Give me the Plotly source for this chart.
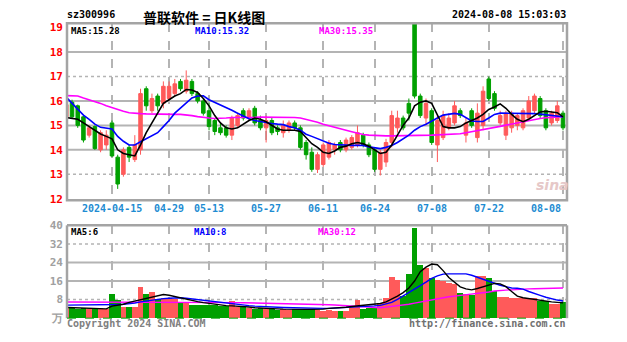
import plotly.graph_objects as go

# ---------------- data ----------------
tick_idx = [8, 18, 25, 35, 45, 54, 64, 74, 87]
tick_text = ["2024-04-15", "04-29", "05-13", "05-27", "06-11", "06-24", "07-08", "07-22", "08-08"]

open_ = [15.35, 15.95, 15.8, 15.35, 14.6, 14.95, 14.0, 14.2, 15.1, 13.7,
         13.0, 14.1, 13.6, 14.0, 16.5, 15.6, 16.2, 15.9, 16.1, 16.3,
         16.8, 16.4, 16.8, 16.3, 16.0, 15.6, 15.2, 14.9, 14.9, 14.6,
         15.0, 15.6, 15.3, 15.7, 15.2, 14.9, 15.2, 14.9, 14.7, 14.8,
         15.1, 14.9, 14.3, 13.9, 13.2, 13.4, 13.7, 14.0, 14.3, 14.0,
         14.1, 14.2, 14.6, 14.2, 14.0, 13.2, 13.5, 14.3, 14.9, 15.3,
         15.9, 20.5, 16.2, 15.3, 15.6, 14.2, 14.5, 14.9, 15.1, 15.6,
         14.6, 15.6, 14.5, 15.0, 16.9, 16.3, 15.1, 14.6, 14.9, 15.0,
         14.9, 15.3, 15.6, 16.1, 15.6, 15.1, 15.2, 15.5]
high = [15.95, 16.05, 15.85, 15.4, 15.0, 15.0, 14.8, 14.8, 15.2, 13.8,
        14.1, 14.2, 14.6, 16.5, 16.6, 16.3, 16.3, 16.8, 16.8, 16.9,
        16.9, 17.25, 16.9, 16.4, 16.1, 15.9, 15.3, 15.1, 15.0, 15.4,
        15.5, 15.7, 15.7, 15.8, 15.4, 15.4, 15.3, 15.0, 15.2, 15.2,
        15.2, 15.0, 14.4, 14.1, 13.9, 14.3, 14.4, 14.3, 14.4, 14.5,
        14.6, 15.0, 14.7, 14.3, 14.1, 14.0, 14.45, 15.6, 15.6, 15.4,
        16.1, 20.5, 16.3, 16.1, 15.7, 15.4, 15.6, 15.5, 16.0, 15.7,
        15.3, 15.7, 15.9, 16.6, 17.0, 16.4, 15.6, 15.6, 15.6, 15.5,
        15.7, 16.2, 16.3, 16.2, 15.7, 15.6, 16.0, 15.6]
low = [15.2, 15.3, 14.9, 14.3, 14.5, 14.0, 13.9, 14.0, 13.7, 12.4,
       12.9, 13.5, 13.5, 13.8, 15.6, 15.5, 15.6, 15.7, 16.0, 16.2,
       16.4, 16.3, 16.2, 15.9, 15.4, 14.8, 14.6, 14.6, 14.5, 14.4,
       14.9, 15.2, 15.2, 15.0, 14.8, 14.3, 14.6, 14.6, 14.5, 14.7,
       14.8, 14.0, 13.6, 13.1, 13.05, 13.3, 13.6, 13.8, 13.9, 13.9,
       14.0, 14.1, 14.1, 13.7, 13.1, 12.95, 13.3, 14.1, 14.7, 14.8,
       15.2, 16.1, 15.3, 15.0, 14.2, 13.5, 14.4, 14.8, 15.0, 15.3,
       14.3, 14.9, 14.3, 14.8, 16.0, 15.6, 15.0, 14.4, 14.7, 14.8,
       14.8, 15.2, 15.5, 15.3, 14.8, 15.0, 15.1, 14.8]
close = [15.85, 15.35, 15.0, 14.4, 14.9, 14.05, 14.7, 14.6, 13.75, 12.6,
         14.0, 13.7, 14.2, 16.3, 15.8, 16.1, 15.8, 16.6, 16.6, 16.7,
         16.5, 16.85, 16.3, 16.0, 15.5, 14.95, 14.75, 14.7, 14.6, 15.3,
         15.4, 15.3, 15.6, 15.1, 14.9, 15.2, 14.7, 14.75, 15.0, 15.1,
         14.9, 14.1, 13.8, 13.2, 13.8, 14.2, 14.3, 14.2, 14.0, 14.4,
         14.5, 14.7, 14.2, 13.8, 13.2, 13.9, 14.3, 15.4, 15.3, 14.9,
         15.5, 16.2, 15.4, 15.9, 14.3, 15.2, 15.4, 15.3, 15.8, 15.4,
         15.1, 15.0, 15.5, 16.4, 16.1, 15.7, 15.4, 15.5, 15.5, 15.4,
         15.6, 16.0, 16.2, 15.4, 14.9, 15.5, 15.8, 14.9]

ma5 = [15.32, 15.3, 15.25, 15.1, 14.95, 14.8, 14.65, 14.55, 14.45, 14.0,
       13.85, 13.8, 13.75, 14.2, 14.7, 15.1, 15.5, 15.9, 16.05, 16.2,
       16.3, 16.47, 16.45, 16.35, 16.1, 15.8, 15.4, 15.1, 14.9, 14.85,
       14.9, 15.05, 15.2, 15.3, 15.25, 15.15, 15.0, 14.85, 14.8, 14.8,
       14.8, 14.75, 14.5, 14.25, 14.1, 13.9, 13.85, 13.95, 14.1, 14.15,
       14.25, 14.3, 14.25, 14.15, 14.0, 13.85, 13.9, 14.2, 14.6, 15.0,
       15.3, 15.8, 15.95, 16.0, 15.9, 15.4, 14.95, 14.9, 14.9, 14.95,
       15.1, 15.2, 15.3, 15.45, 15.65, 15.75, 15.88, 15.7, 15.45, 15.25,
       15.15, 15.25, 15.4, 15.55, 15.58, 15.55, 15.52, 15.35]
ma10 = [16.15, 15.9, 15.65, 15.42, 15.25, 15.05, 14.92, 14.9, 14.85, 14.55,
        14.35, 14.2, 14.2, 14.33, 14.45, 14.58, 14.7, 14.95, 15.2, 15.5,
        15.7, 15.9, 16.12, 16.2, 16.21, 16.05, 15.95, 15.85, 15.75, 15.62,
        15.5, 15.38, 15.27, 15.2, 15.15, 15.1, 15.08, 15.05, 15.03, 14.95,
        14.9, 14.8, 14.64, 14.55, 14.45, 14.35, 14.27, 14.22, 14.2, 14.18,
        14.18, 14.18, 14.18, 14.12, 14.07, 14.05, 14.1, 14.18, 14.3, 14.45,
        14.6, 14.8, 14.95, 15.05, 15.16, 15.3, 15.42, 15.46, 15.49, 15.45,
        15.3, 15.18, 15.16, 15.16, 15.3, 15.45, 15.5, 15.5, 15.49, 15.49,
        15.49, 15.49, 15.48, 15.46, 15.43, 15.4, 15.37, 15.35]
ma30 = [16.22, 16.22, 16.2, 16.12, 16.05, 15.98, 15.9, 15.8, 15.72, 15.64,
        15.58, 15.52, 15.49, 15.48, 15.47, 15.46, 15.45, 15.45, 15.45, 15.45,
        15.45, 15.44, 15.4, 15.36, 15.32, 15.3, 15.28, 15.28, 15.3, 15.32,
        15.33, 15.33, 15.33, 15.33, 15.34, 15.34, 15.34, 15.34, 15.34, 15.33,
        15.32, 15.3, 15.25, 15.2, 15.13, 15.05, 14.98, 14.92, 14.85, 14.8,
        14.74, 14.68, 14.63, 14.6, 14.58, 14.57, 14.57, 14.57, 14.57, 14.57,
        14.57, 14.58, 14.58, 14.59, 14.6, 14.61, 14.62, 14.63, 14.64, 14.66,
        14.7, 14.74, 14.78, 14.82, 14.87, 14.92, 14.96, 15.01, 15.06, 15.1,
        15.15, 15.2, 15.24, 15.28, 15.31, 15.33, 15.35, 15.36]

volume = [4.6, 4.2, 4.0, 4.3, 3.8, 4.0, 4.2, 4.0, 10.2, 7.8,
          4.8, 4.6, 4.8, 13.2, 10.2, 11.3, 8.0, 8.6, 8.4, 8.2,
          6.8, 6.6, 5.6, 5.5, 5.4, 5.6, 5.5, 5.2, 5.0, 7.2,
          4.8, 4.6, 4.2, 4.0, 4.2, 3.8, 4.0, 3.5, 3.6, 3.4,
          3.8, 3.9, 3.6, 3.8, 3.2, 3.0, 3.4, 3.0, 2.8, 3.0,
          4.5, 7.8, 3.6, 4.4, 4.2, 6.5, 8.5, 17.8, 16.5, 9.5,
          19.0, 38.9, 22.6, 21.5, 17.1, 16.4, 16.0, 15.0, 14.5, 10.5,
          10.2, 10.0, 18.0, 18.2, 17.1, 11.5, 8.8, 8.8, 8.6, 8.5,
          8.4, 8.5, 8.6, 7.4, 7.2, 6.0, 6.1, 6.7]
vma5 = [4.6, 4.5, 4.4, 4.3, 4.2, 4.1, 4.0, 4.0, 5.2, 5.6,
        6.0, 6.8, 7.4, 7.8, 8.4, 9.0, 9.5, 10.2, 9.9, 9.3,
        8.8, 8.0, 7.6, 7.1, 6.7, 6.3, 6.0, 5.6, 5.4, 5.3,
        5.2, 5.0, 4.8, 4.5, 4.3, 4.1, 4.0, 4.0, 3.9, 3.8,
        3.8, 3.8, 3.8, 3.8, 3.8, 3.9, 4.2, 4.3, 4.5, 4.7,
        5.0, 5.3, 5.6, 5.8, 6.0, 6.3, 7.0, 8.2, 9.5, 11.0,
        13.0, 16.0, 20.0, 22.0, 23.3, 23.0, 20.5, 17.5, 15.5, 13.5,
        12.6, 12.2, 12.8, 13.6, 14.5, 15.0, 14.8, 13.6, 11.5, 9.5,
        8.8, 8.4, 8.1, 7.8, 7.4, 7.0, 6.8, 6.6]
vma10 = [5.6, 5.6, 5.6, 5.6, 5.7, 5.7, 5.8, 5.8, 5.9, 5.9,
         6.0, 6.2, 6.5, 7.0, 7.4, 7.8, 8.1, 8.4, 8.6, 8.8,
         8.8, 8.6, 8.3, 8.0, 7.6, 7.3, 7.0, 6.6, 6.3, 6.0,
         5.8, 5.6, 5.4, 5.2, 5.0, 4.9, 4.8, 4.7, 4.6, 4.5,
         4.4, 4.3, 4.2, 4.2, 4.2, 4.2, 4.2, 4.3, 4.4, 4.5,
         4.6, 4.8, 5.0, 5.1, 5.3, 5.5, 6.0, 6.8, 8.1, 9.5,
         11.0, 12.6, 14.0, 15.5, 17.1, 18.2, 19.0, 19.1, 19.1, 19.1,
         19.1, 18.5, 17.6, 16.8, 15.8, 14.8, 14.2, 13.6, 13.0, 12.9,
         12.5, 11.5, 10.5, 9.8, 9.0, 8.3, 7.8, 7.4]
vma30 = [7.0, 7.0, 7.0, 7.0, 7.0, 7.0, 7.0, 7.0, 7.0, 7.0,
         7.0, 7.0, 7.0, 7.0, 7.0, 6.95, 6.95, 6.95, 6.9, 6.9,
         6.9, 6.9, 6.85, 6.85, 6.8, 6.8, 6.8, 6.75, 6.75, 6.7,
         6.7, 6.65, 6.6, 6.6, 6.55, 6.5, 6.5, 6.45, 6.4, 6.4,
         6.4, 6.3, 6.2, 6.1, 6.05, 6.0, 5.8, 5.65, 5.5, 5.25,
         5.0, 4.8, 4.65, 4.5, 4.5, 4.5, 4.75, 5.0, 5.3, 5.65,
         6.0, 6.5, 7.0, 7.5, 8.0, 8.5, 8.8, 9.2, 9.5, 9.75,
         10.0, 10.3, 10.7, 11.0, 11.3, 11.7, 12.0, 12.1, 12.2, 12.4,
         12.5, 12.6, 12.65, 12.7, 12.8, 12.9, 12.95, 13.0]

price_ticks = [12, 13, 14, 15, 16, 17, 18, 19]
vol_ticks = [0, 8, 16, 24, 32, 40]
vol_tick_text = ["万", "8", "16", "24", "32", "40"]

# ---------------- styling ----------------
W, H = 627, 342
RED = "#FF5A5A"
GREEN = "#00A000"
GRID = "#B4B4B4"
FRAME = "#A4A4A4"
MONO = "DejaVu Sans Mono"


def px(x):
    return x / W


def py(y):
    return 1 - y / H


idx = list(range(len(close)))
vol_colors = [RED if c >= o else GREEN for o, c in zip(open_, close)]

fig = go.Figure()
fig.add_trace(go.Candlestick(
    x=idx, open=open_, high=high, low=low, close=close,
    increasing=dict(line=dict(color=RED, width=1), fillcolor=RED),
    decreasing=dict(line=dict(color=GREEN, width=1), fillcolor=GREEN),
    whiskerwidth=0, xaxis="x", yaxis="y", showlegend=False, hoverinfo="skip"))
for arr, col in [(ma30, "#FF00FF"), (ma10, "#0000FF"), (ma5, "#000000")]:
    fig.add_trace(go.Scatter(x=idx, y=arr, mode="lines", line=dict(color=col, width=1.6),
                             xaxis="x", yaxis="y", showlegend=False, hoverinfo="skip"))

fig.add_trace(go.Bar(x=idx, y=volume, width=1.0, marker=dict(color=vol_colors, line=dict(width=0)),
                     xaxis="x2", yaxis="y2", showlegend=False, hoverinfo="skip"))
for arr, col in [(vma30, "#FF00FF"), (vma10, "#0000FF"), (vma5, "#000000")]:
    fig.add_trace(go.Scatter(x=idx, y=arr, mode="lines", line=dict(color=col, width=1.4),
                             xaxis="x2", yaxis="y2", showlegend=False, hoverinfo="skip"))

xdom = [px(67), px(567)]
xr = [0.12, 87.7]
xcommon = dict(domain=xdom, range=xr, tickmode="array", tickvals=tick_idx, showticklabels=False,
               showgrid=True, gridcolor=GRID, griddash="dash", gridwidth=2, zeroline=False,
               showline=False, ticks="", fixedrange=True)

fig.update_layout(
    width=W, height=H, margin=dict(l=0, r=0, t=0, b=0),
    paper_bgcolor="white", plot_bgcolor="white", showlegend=False, bargap=0,
    boxgap=0.12,
    xaxis=dict(**xcommon, anchor="y", rangeslider=dict(visible=False)),
    xaxis2=dict(**xcommon, anchor="y2"),
    yaxis=dict(domain=[py(202), py(18)], range=[11.933, 19.177], tickmode="array",
               tickvals=price_ticks, ticktext=[str(v) for v in price_ticks],
               tickfont=dict(family=MONO, size=11, color="#FF0000", weight="bold"),
               showgrid=False, zeroline=False, showline=False, ticks="", ticklabelstandoff=3,
               fixedrange=True),
    yaxis2=dict(domain=[py(324.5), py(228)], range=[0, 40], tickmode="array",
                tickvals=vol_ticks, ticktext=vol_tick_text,
                tickfont=dict(family=MONO, size=11, color="#A0A0A0", weight="bold"),
                showgrid=False, zeroline=False, showline=False, ticks="", ticklabelstandoff=3,
                fixedrange=True),
)

shapes = []
# horizontal grid in price panel
for v, dash in [(18, "solid"), (17, "dot"), (16, "solid"), (15, "solid"), (14, "solid"), (13, "dot")]:
    shapes.append(dict(type="line", xref="x domain", yref="y", x0=0, x1=1, y0=v, y1=v,
                       line=dict(color=GRID, width=2 if dash == "solid" else 1.5, dash=dash),
                       layer="below"))
# horizontal grid in volume panel
for v, dash in [(32, "dot"), (24, "solid"), (16, "solid"), (8, "dot")]:
    shapes.append(dict(type="line", xref="x2 domain", yref="y2", x0=0, x1=1, y0=v, y1=v,
                       line=dict(color=GRID, width=2 if dash == "solid" else 1.5, dash=dash),
                       layer="below"))
# frames
shapes.append(dict(type="rect", xref="x domain", yref="y domain", x0=0, x1=1, y0=0, y1=1,
                   line=dict(color=FRAME, width=2.5)))
for (x0, y0, x1, y1) in [(0, 0, 0, 1), (0, 1, 1, 1), (1, 0, 1, 1)]:
    shapes.append(dict(type="line", xref="x2 domain", yref="y2 domain", x0=x0, x1=x1, y0=y0, y1=y1,
                       line=dict(color=FRAME, width=2.5)))
shapes.append(dict(type="line", xref="x2 domain", yref="y2 domain", x0=0, x1=1, y0=0, y1=0,
                   line=dict(color=GREEN, width=1, dash="dash")))
fig.update_layout(shapes=shapes)

ann = []


def text(x, y, s, color, size=10, family=MONO, xanchor="left", bold=True, xref="paper"):
    ann.append(dict(x=x, y=y, xref=xref, yref="paper", text=s, showarrow=False,
                    xanchor=xanchor, yanchor="middle",
                    font=dict(family=family, size=size, color=color,
                              weight="bold" if bold else "normal")))


text(px(65), py(9), "sz300996", "#000000", 10)
text(px(204), py(11), "普联软件 = 日K线图", "#000000", 14, family="Noto Sans CJK SC", xanchor="center")
text(px(568), py(9), "2024-08-08 15:03:03", "#000000", 10, xanchor="right")

text(px(69), py(26), "MA5:15.28", "#000000", 9)
text(px(193), py(26), "MA10:15.32", "#0000FF", 9)
text(px(317), py(26), "MA30:15.35", "#FF00FF", 9)

text(px(69), py(235), "MA5:6", "#000000", 9)
text(px(192), py(235), "MA10:8", "#0000FF", 9)
text(px(316), py(235), "MA30:12", "#FF00FF", 9)

for i, (k, s) in enumerate(zip(tick_idx, tick_text)):
    last = i == len(tick_idx) - 1
    ann.append(dict(x=k, y=py(210), xref="x", yref="paper", text=s, showarrow=False,
                    xanchor="right" if last else "center", yanchor="middle",
                    font=dict(family=MONO, size=10, color="#1E8CD2", weight="bold")))

text(px(552), py(186), "<i>sina</i>", "#E6C8C8", 14, family="DejaVu Sans", xanchor="center")
text(px(65), py(330), "Copyright 2024 SINA.COM", "#808080", 10)
text(px(568), py(330), "http://finance.sina.com.cn", "#707070", 10, xanchor="right")

fig.update_layout(annotations=ann)
fig.write_html("out.html")
